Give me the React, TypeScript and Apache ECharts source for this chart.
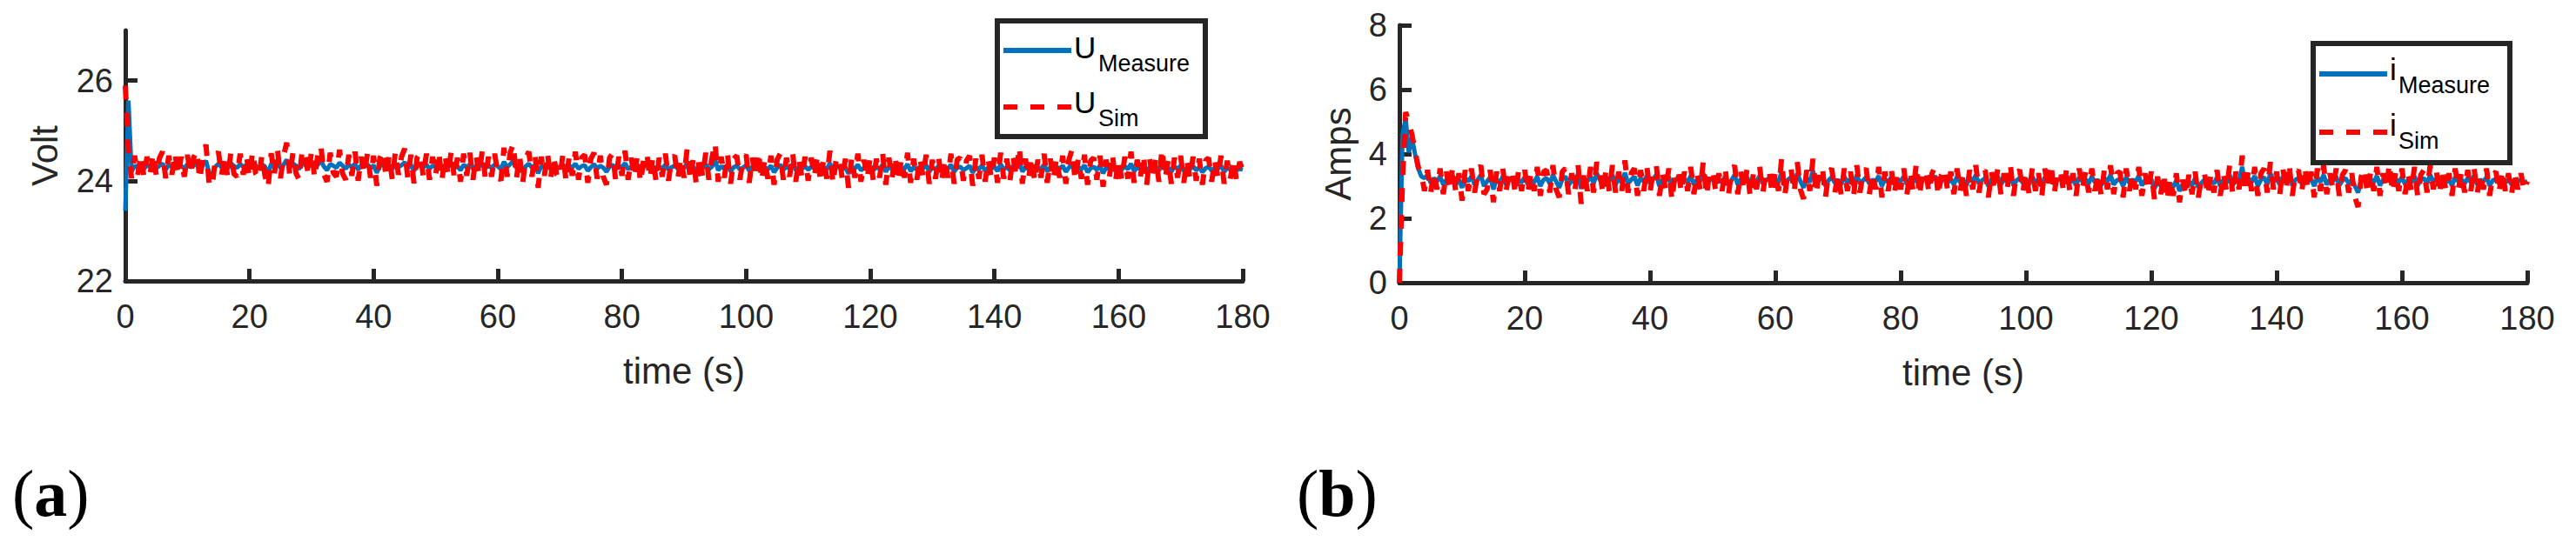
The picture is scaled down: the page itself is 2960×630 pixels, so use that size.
import { useEffect, useRef } from 'react';
import * as echarts from 'echarts';

// sampling period of both recordings (s)
const STEP = 0.5;
const TIME_RANGE = [0, 180];
const TIME_TICK = 20;
const U_TICKS = [22, 24, 26];
const U_RANGE = [22, 27];
const I_TICKS = [0, 2, 4, 6, 8];
const I_RANGE = [0, 8];

// (a) bus voltage, measured
const U_MEAS = [
  23.40, 25.60, 24.18, 24.30, 24.26, 24.33, 24.24, 24.31, 24.28, 24.36, 24.25, 24.30, 24.34, 24.22, 24.32, 24.28, 24.36, 24.26, 24.30, 24.24,
  24.33, 24.27, 24.30, 24.36, 24.20, 24.31, 24.40, 24.16, 24.12, 24.28, 24.34, 24.27, 24.32, 24.24, 24.35, 24.29, 24.26, 24.33, 24.28, 24.31,
  24.25, 24.36, 24.30, 24.24, 24.33, 24.28, 24.14, 24.34, 24.27, 24.38, 24.25, 24.32, 24.42, 24.26, 24.34, 24.30, 24.23, 24.37, 24.31, 24.27,
  24.35, 24.25, 24.32, 24.40, 24.28, 24.21, 24.33, 24.30, 24.26, 24.36, 24.30, 24.24, 24.32, 24.27, 24.34, 24.22, 24.31, 24.28, 24.33, 24.25,
  24.31, 24.16, 24.29, 24.35, 24.26, 24.32, 24.23, 24.34, 24.28, 24.31, 24.37, 24.25, 24.32, 24.20, 24.29, 24.33, 24.27, 24.32, 24.24, 24.30,
  24.28, 24.34, 24.23, 24.31, 24.27, 24.35, 24.25, 24.29, 24.21, 24.32, 24.27, 24.33, 24.24, 24.30, 24.28, 24.35, 24.25, 24.30, 24.26, 24.32,
  24.29, 24.23, 24.38, 24.27, 24.33, 24.40, 24.25, 24.31, 24.19, 24.29, 24.34, 24.26, 24.31, 24.15, 24.29, 24.27, 24.33, 24.24, 24.30, 24.28,
  24.25, 24.32, 24.22, 24.29, 24.27, 24.34, 24.24, 24.29, 24.31, 24.20, 24.27, 24.33, 24.24, 24.30, 24.26, 24.18, 24.28, 24.32, 24.23, 24.29,
  24.27, 24.35, 24.23, 24.28, 24.25, 24.31, 24.20, 24.27, 24.33, 24.24, 24.29, 24.21, 24.28, 24.25, 24.32, 24.22, 24.27, 24.30, 24.24, 24.28,
  24.25, 24.36, 24.22, 24.28, 24.16, 24.30, 24.25, 24.33, 24.23, 24.28, 24.42, 24.21, 24.29, 24.24, 24.32, 24.19, 24.27, 24.30, 24.23, 24.26,
  24.31, 24.20, 24.28, 24.24, 24.33, 24.22, 24.27, 24.23, 24.30, 24.17, 24.26, 24.32, 24.22, 24.28, 24.25, 24.33, 24.21, 24.27, 24.24, 24.29,
  24.22, 24.28, 24.25, 24.31, 24.20, 24.27, 24.23, 24.35, 24.18, 24.26, 24.29, 24.22, 24.27, 24.14, 24.28, 24.24, 24.32, 24.21, 24.26, 24.23,
  24.29, 24.21, 24.27, 24.24, 24.32, 24.18, 24.28, 24.23, 24.30, 24.20, 24.26, 24.24, 24.33, 24.19, 24.27, 24.22, 24.28, 24.25, 24.31, 24.18,
  24.26, 24.23, 24.29, 24.20, 24.27, 24.24, 24.32, 24.18, 24.26, 24.28, 24.21, 24.25, 24.30, 24.16, 24.27, 24.23, 24.31, 24.20, 24.26, 24.24,
  24.28, 24.19, 24.33, 24.23, 24.27, 24.21, 24.30, 24.25, 24.40, 24.18, 24.27, 24.23, 24.29, 24.20, 24.26, 24.24, 24.32, 24.19, 24.27, 24.22,
  24.28, 24.24, 24.30, 24.18, 24.26, 24.36, 24.21, 24.27, 24.23, 24.31, 24.17, 24.25, 24.28, 24.22, 24.30, 24.15, 24.26, 24.24, 24.32, 24.20,
  24.27, 24.22, 24.29, 24.23, 24.34, 24.19, 24.26, 24.24, 24.31, 24.16, 24.27, 24.22, 24.28, 24.20, 24.37, 24.23, 24.26, 24.18, 24.28, 24.24,
  24.30, 24.19, 24.26, 24.23, 24.29, 24.21, 24.27, 24.17, 24.25, 24.28, 24.20, 24.26, 24.24, 24.30, 24.18, 24.25, 24.23, 24.27, 24.21, 24.24,
  24.22,
];

// (a) bus voltage, simulated
const U_SIM = [
  25.90, 24.60, 24.05, 24.50, 24.12, 24.52, 24.08, 24.48, 24.15, 24.55, 24.10, 24.45, 24.58, 24.05, 24.50, 24.12, 24.56, 24.10, 24.48, 24.08,
  24.52, 24.12, 24.46, 24.60, 24.02, 24.48, 24.72, 23.92, 23.88, 24.45, 24.58, 24.10, 24.52, 24.06, 24.56, 24.14, 24.08, 24.54, 24.12, 24.50,
  24.06, 24.58, 24.14, 24.04, 24.52, 24.10, 23.86, 24.55, 24.12, 24.64, 24.05, 24.50, 24.76, 24.08, 24.56, 24.15, 24.02, 24.62, 24.50, 24.10,
  24.60, 24.05, 24.52, 24.70, 24.12, 23.98, 24.56, 24.16, 24.08, 24.62, 24.14, 24.02, 24.52, 24.10, 24.58, 24.00, 24.48, 24.12, 24.55, 24.06,
  24.50, 23.90, 24.45, 24.60, 24.06, 24.52, 24.02, 24.58, 24.12, 24.48, 24.64, 24.05, 24.52, 23.95, 24.46, 24.56, 24.08, 24.54, 24.02, 24.48,
  24.12, 24.58, 24.00, 24.52, 24.10, 24.60, 24.05, 24.46, 23.98, 24.54, 24.10, 24.56, 24.02, 24.50, 24.12, 24.60, 24.04, 24.48, 24.08, 24.54,
  24.14, 24.00, 24.66, 24.08, 24.56, 24.74, 24.04, 24.52, 23.94, 24.46, 24.58, 24.08, 24.52, 23.86, 24.48, 24.10, 24.56, 24.02, 24.50, 24.12,
  24.05, 24.54, 23.98, 24.48, 24.10, 24.58, 24.02, 24.46, 24.52, 23.96, 24.44, 24.56, 24.04, 24.50, 24.08, 23.92, 24.46, 24.54, 24.00, 24.48,
  24.10, 24.60, 24.02, 24.46, 24.06, 24.52, 23.96, 24.44, 24.56, 24.04, 24.48, 23.98, 24.46, 24.08, 24.54, 24.00, 24.44, 24.50, 24.04, 24.46,
  24.06, 24.64, 24.00, 24.46, 23.90, 24.50, 24.08, 24.56, 24.02, 24.46, 24.76, 23.98, 24.48, 24.06, 24.54, 23.94, 24.44, 24.50, 24.02, 24.42,
  24.52, 23.96, 24.46, 24.06, 24.58, 24.00, 24.44, 24.04, 24.50, 23.92, 24.42, 24.54, 24.02, 24.46, 24.08, 24.56, 23.98, 24.44, 24.06, 24.48,
  24.00, 24.46, 24.08, 24.52, 23.96, 24.44, 24.04, 24.60, 23.94, 24.42, 24.48, 24.02, 24.44, 23.86, 24.46, 24.06, 24.54, 23.98, 24.42, 24.04,
  24.48, 24.00, 24.44, 24.06, 24.54, 23.92, 24.46, 24.04, 24.50, 23.98, 24.42, 24.06, 24.56, 23.96, 24.44, 24.02, 24.46, 24.08, 24.52, 23.94,
  24.42, 24.04, 24.48, 23.98, 24.44, 24.06, 24.54, 23.94, 24.42, 24.46, 24.00, 24.40, 24.50, 23.90, 24.44, 24.04, 24.52, 23.98, 24.42, 24.06,
  24.46, 23.96, 24.56, 24.04, 24.44, 24.00, 24.50, 24.08, 24.68, 23.94, 24.44, 24.04, 24.48, 23.98, 24.42, 24.06, 24.54, 23.96, 24.44, 24.02,
  24.46, 24.06, 24.50, 23.94, 24.42, 24.62, 24.00, 24.44, 24.04, 24.52, 23.92, 24.40, 24.46, 24.02, 24.50, 23.88, 24.42, 24.06, 24.54, 23.98,
  24.44, 24.02, 24.48, 24.04, 24.58, 23.96, 24.42, 24.06, 24.52, 23.90, 24.44, 24.02, 24.46, 23.98, 24.64, 24.04, 24.42, 23.94, 24.46, 24.06,
  24.50, 23.96, 24.42, 24.04, 24.48, 24.00, 24.44, 23.92, 24.40, 24.46, 23.98, 24.42, 24.06, 24.50, 23.94, 24.40, 24.04, 24.44, 24.00, 24.38,
  24.20,
];

// (b) load current, measured
const I_MEAS = [
  0.00, 4.60, 5.10, 4.05, 4.50, 4.00, 3.55, 3.30, 3.25, 3.35, 3.10, 3.25, 3.15, 3.30, 3.05, 3.20, 3.15, 3.35, 3.05, 3.20,
  2.95, 3.25, 3.15, 3.30, 3.05, 3.20, 3.35, 3.00, 3.15, 3.28, 2.90, 3.22, 3.10, 3.30, 3.05, 3.18, 3.25, 3.00, 3.20, 3.12,
  3.28, 3.05, 3.18, 3.12, 3.30, 3.00, 3.20, 3.25, 3.08, 3.35, 3.15, 2.95, 3.22, 3.30, 3.02, 3.18, 3.12, 3.38, 2.92, 3.25,
  3.15, 3.32, 3.08, 3.40, 3.20, 3.02, 3.28, 3.15, 3.35, 3.05, 3.22, 3.12, 3.42, 3.08, 3.20, 3.30, 3.02, 3.25, 3.15, 3.32,
  3.08, 3.22, 3.35, 3.00, 3.20, 3.15, 3.30, 2.95, 3.18, 3.28, 3.08, 3.22, 3.12, 3.32, 3.05, 3.20, 3.15, 3.40, 3.02, 3.18,
  3.25, 3.08, 3.20, 3.12, 3.30, 3.02, 3.18, 3.35, 3.05, 3.22, 3.12, 3.28, 3.00, 3.20, 3.15, 3.32, 3.08, 3.18, 3.25, 3.05,
  3.22, 3.12, 3.45, 3.02, 3.20, 3.28, 3.08, 3.40, 3.15, 2.95, 3.25, 3.12, 3.48, 3.05, 3.20, 3.32, 3.00, 3.18, 3.28, 3.10,
  3.20, 3.05, 3.30, 3.12, 3.22, 3.02, 3.35, 3.08, 3.18, 3.28, 3.08, 3.20, 3.15, 3.32, 3.00, 3.22, 3.12, 3.28, 3.05, 3.20,
  3.15, 3.30, 3.05, 3.22, 3.12, 3.38, 3.02, 3.18, 3.25, 3.08, 3.20, 3.32, 3.02, 3.15, 3.28, 3.10, 3.22, 3.05, 3.30, 3.12,
  3.20, 3.02, 3.28, 3.15, 3.35, 3.08, 3.18, 3.25, 3.00, 3.22, 3.12, 3.30, 3.05, 3.20, 3.15, 3.38, 3.02, 3.18, 3.25, 3.10,
  3.22, 3.05, 3.30, 3.12, 3.20, 3.00, 3.28, 3.15, 3.38, 3.05, 3.18, 3.25, 3.08, 3.32, 3.12, 3.20, 3.02, 3.28, 3.15, 3.22,
  3.08, 3.30, 3.12, 3.20, 3.02, 3.25, 3.15, 3.35, 3.05, 3.18, 3.22, 3.00, 3.28, 3.10, 3.20, 3.15, 3.32, 3.02, 3.18, 3.10,
  3.22, 2.92, 3.12, 3.02, 3.20, 2.88, 3.08, 2.98, 3.18, 2.85, 3.05, 2.95, 3.15, 3.02, 3.25, 2.95, 3.10, 3.20, 3.00, 3.15,
  3.08, 3.28, 3.00, 3.20, 3.10, 3.35, 3.02, 3.22, 3.15, 3.60, 3.05, 3.25, 3.12, 3.32, 3.00, 3.20, 3.28, 3.05, 3.40, 3.15,
  3.22, 3.05, 3.30, 3.12, 3.38, 3.02, 3.20, 3.25, 3.08, 3.32, 3.15, 3.22, 3.00, 3.28, 3.12, 3.35, 3.05, 3.20, 3.15, 3.30,
  3.02, 3.18, 3.25, 3.08, 3.20, 3.00, 2.80, 3.15, 3.28, 3.05, 3.22, 3.12, 3.32, 3.02, 3.20, 3.15, 3.38, 3.08, 3.22, 3.12,
  3.28, 3.05, 3.20, 3.12, 3.32, 3.02, 3.18, 3.25, 3.08, 3.35, 3.15, 3.22, 3.05, 3.30, 3.12, 3.20, 3.02, 3.28, 3.15, 3.22,
  3.08, 3.25, 3.12, 3.32, 3.05, 3.20, 3.15, 3.28, 3.02, 3.18, 3.22, 3.08, 3.25, 3.12, 3.20, 3.05, 3.22, 3.15, 3.20, 3.12,
  3.15,
];

// (b) load current, simulated
const I_SIM = [
  0.00, 3.20, 5.30, 5.00, 4.60, 4.10, 3.60, 3.40, 2.85, 3.50, 2.80, 3.45, 2.90, 3.55, 2.75, 3.45, 2.85, 3.60, 2.80, 3.40,
  2.55, 3.50, 2.85, 3.55, 2.80, 3.40, 3.65, 2.75, 2.90, 3.50, 2.50, 3.45, 2.85, 3.55, 2.80, 3.40, 3.50, 2.75, 3.45, 2.85,
  3.50, 2.80, 3.40, 2.85, 3.60, 2.70, 3.45, 3.50, 2.80, 3.65, 2.90, 2.65, 3.45, 3.55, 2.75, 3.40, 2.85, 3.70, 2.45, 3.50,
  2.85, 3.60, 2.80, 3.75, 3.40, 2.75, 3.55, 2.85, 3.65, 2.80, 3.45, 2.85, 3.80, 2.80, 3.40, 3.55, 2.70, 3.50, 2.85, 3.60,
  2.80, 3.45, 3.65, 2.70, 3.40, 2.85, 3.55, 2.55, 3.40, 3.50, 2.80, 3.45, 2.85, 3.60, 2.75, 3.40, 2.90, 3.75, 2.70, 3.40,
  3.50, 2.80, 3.40, 2.85, 3.55, 2.70, 3.45, 3.65, 2.75, 3.45, 2.85, 3.55, 2.65, 3.40, 2.90, 3.60, 2.80, 3.40, 3.50, 2.75,
  3.45, 2.85, 3.85, 2.70, 3.40, 3.55, 2.80, 3.75, 2.90, 2.60, 3.50, 2.85, 3.85, 2.75, 3.40, 3.60, 2.65, 3.40, 3.55, 2.80,
  3.40, 2.75, 3.55, 2.85, 3.45, 2.70, 3.65, 2.80, 3.40, 3.55, 2.75, 3.40, 2.90, 3.60, 2.65, 3.45, 2.85, 3.55, 2.75, 3.40,
  2.90, 3.55, 2.75, 3.45, 2.85, 3.70, 2.70, 3.40, 3.50, 2.80, 3.40, 3.60, 2.70, 3.35, 3.55, 2.85, 3.45, 2.75, 3.55, 2.85,
  3.40, 2.70, 3.50, 2.90, 3.65, 2.80, 3.40, 3.50, 2.65, 3.45, 2.85, 3.55, 2.75, 3.40, 2.90, 3.70, 2.70, 3.40, 3.50, 2.80,
  3.45, 2.75, 3.55, 2.85, 3.40, 2.65, 3.55, 2.90, 3.70, 2.75, 3.40, 3.50, 2.80, 3.60, 2.85, 3.40, 2.70, 3.55, 2.90, 3.45,
  2.80, 3.55, 2.85, 3.40, 2.70, 3.50, 2.90, 3.65, 2.75, 3.40, 3.45, 2.65, 3.55, 2.85, 3.40, 2.90, 3.60, 2.70, 3.40, 2.85,
  3.45, 2.60, 3.30, 2.75, 3.40, 2.55, 3.25, 2.70, 3.40, 2.50, 3.20, 2.70, 3.35, 2.75, 3.45, 2.65, 3.25, 3.40, 2.70, 3.35,
  2.80, 3.50, 2.70, 3.40, 2.85, 3.65, 2.75, 3.45, 2.90, 3.95, 2.80, 3.50, 2.85, 3.60, 2.70, 3.40, 3.55, 2.80, 3.75, 2.90,
  3.45, 2.75, 3.55, 2.85, 3.70, 2.70, 3.40, 3.50, 2.80, 3.60, 2.90, 3.45, 2.65, 3.55, 2.85, 3.65, 2.75, 3.40, 2.90, 3.55,
  2.70, 3.35, 3.50, 2.80, 3.40, 2.65, 2.35, 3.30, 3.55, 2.75, 3.45, 2.85, 3.60, 2.70, 3.40, 2.90, 3.70, 2.80, 3.45, 2.85,
  3.55, 2.75, 3.40, 2.85, 3.60, 2.70, 3.35, 3.50, 2.80, 3.65, 2.90, 3.45, 2.75, 3.55, 2.85, 3.40, 2.70, 3.55, 2.90, 3.45,
  2.80, 3.50, 2.85, 3.60, 2.75, 3.40, 2.90, 3.55, 2.70, 3.35, 3.45, 2.80, 3.50, 2.85, 3.40, 2.75, 3.45, 2.90, 3.40, 2.85,
  3.15,
];

const INK = '#262626';
const BLUE = '#0072BD';
const RED = '#FF0000';
const SANS = '"Liberation Sans", Arial, sans-serif';
const SERIF = '"Liberation Serif", "Times New Roman", serif';
const DASH = [16, 15];

const toPairs = (vals: number[]) => vals.map((v, i) => [i * STEP, v]);

function xAxisFor(gridIndex: number) {
  return {
    type: 'value', gridIndex, min: TIME_RANGE[0], max: TIME_RANGE[1], interval: TIME_TICK,
    name: 'time (s)', nameLocation: 'middle', nameGap: 82,
    nameTextStyle: { color: INK, fontSize: 42, fontFamily: SANS },
    axisLine: { show: true, onZero: false, lineStyle: { color: INK, width: 5 } },
    axisTick: { show: true, inside: true, length: 14, lineStyle: { color: INK, width: 5 } },
    axisLabel: { color: INK, fontSize: 38, fontFamily: SANS, margin: 22 },
    splitLine: { show: false },
  };
}

function yAxisFor(gridIndex: number, name: string, range: number[], ticks: number[], nameGap: number) {
  return {
    type: 'value', gridIndex, min: range[0], max: range[1],
    name, nameLocation: 'middle', nameGap,
    nameTextStyle: { color: INK, fontSize: 42, fontFamily: SANS },
    axisLine: { show: true, onZero: false, lineStyle: { color: INK, width: 5 } },
    axisTick: { show: true, inside: true, length: 14, customValues: ticks, lineStyle: { color: INK, width: 5 } },
    axisLabel: { color: INK, fontSize: 38, fontFamily: SANS, margin: 14, customValues: ticks },
    splitLine: { show: false },
  };
}

// boxed legend drawn like MATLAB's: sample line + symbol with subscript
function legendBox(x: number, y: number, w: number, h: number, sym: string, symW: number, rows: [number, number][]) {
  const subs = ['Measure', 'Sim'];
  const els: any[] = [
    { type: 'rect', shape: { x, y, width: w, height: h }, style: { fill: '#fff', stroke: INK, lineWidth: 6 }, z: 100 },
  ];
  rows.forEach(([lineY, symY], k) => {
    els.push({
      type: 'line', shape: { x1: x + 7, y1: lineY, x2: x + 85, y2: lineY }, z: 101,
      style: { stroke: k === 0 ? BLUE : RED, lineWidth: 6, lineDash: k === 0 ? null : DASH },
    });
    els.push({
      type: 'text', x: x + 88, y: symY, z: 101,
      style: { text: sym, fill: '#000', fontSize: 35, fontFamily: SANS, align: 'left', verticalAlign: 'middle' },
    });
    els.push({
      type: 'text', x: x + 88 + symW, y: symY + 19, z: 101,
      style: { text: subs[k], fill: '#000', fontSize: 27, fontFamily: SANS, align: 'left', verticalAlign: 'middle' },
    });
  });
  return els;
}

function panelTag(x: number, letter: string) {
  return {
    type: 'text', x, y: 567, z: 101,
    style: {
      text: `{p|(}{b|${letter}}{p|)}`, fill: '#000', verticalAlign: 'middle', align: 'left',
      rich: {
        p: { fontSize: 76, fontFamily: SERIF, fill: '#000' },
        b: { fontSize: 76, fontFamily: SERIF, fontWeight: 'bold', fill: '#000' },
      },
    },
  };
}

export default function App() {
  const ref = useRef<HTMLDivElement>(null);

  useEffect(() => {
    document.body.style.margin = '0';
    if (!ref.current) return;
    const chart = echarts.init(ref.current, null, { renderer: 'svg' });
    const line = (name: string, data: number[], idx: number, color: string, dashed: boolean, z: number) => ({
      type: 'line', name, xAxisIndex: idx, yAxisIndex: idx, data: toPairs(data),
      showSymbol: false, symbol: 'none', z, silent: true,
      lineStyle: { color, width: dashed ? 6 : 5, type: dashed ? DASH : 'solid' },
    });
    chart.setOption({
      animation: false,
      backgroundColor: '#fff',
      grid: [
        { left: 144, top: 35, width: 1284, height: 288 },
        { left: 1608, top: 29, width: 1296, height: 296 },
      ],
      xAxis: [xAxisFor(0), xAxisFor(1)],
      yAxis: [
        yAxisFor(0, 'Volt', U_RANGE, U_TICKS, 72),
        yAxisFor(1, 'Amps', I_RANGE, I_TICKS, 50),
      ],
      series: [
        line('U Measure', U_MEAS, 0, BLUE, false, 2),
        line('U Sim', U_SIM, 0, RED, true, 3),
        line('i Measure', I_MEAS, 1, BLUE, false, 2),
        line('i Sim', I_SIM, 1, RED, true, 3),
      ],
      graphic: [
        ...legendBox(1146, 24, 239, 133, 'U', 28, [[58, 54], [123, 117]]),
        ...legendBox(2658, 50, 226, 137, 'i', 10, [[85, 79], [152, 143]]),
        panelTag(14, 'a'),
        panelTag(1490, 'b'),
      ],
    });
    return () => chart.dispose();
  }, []);

  return <div ref={ref} style={{ width: 2960, height: 630 }} />;
}
